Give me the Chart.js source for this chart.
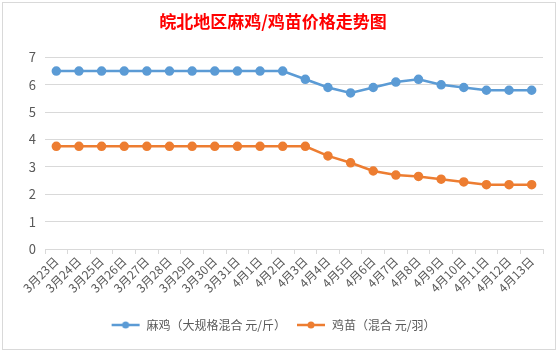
<!DOCTYPE html>
<html>
<head>
<meta charset="utf-8">
<script src="https://cdn.jsdelivr.net/npm/chart.js"></script>
<style>
  html, body { margin: 0; padding: 0; background: #fff; }
  .box {
    position: absolute; left: 2px; top: 2px;
    width: 552px; height: 346px;
    border: 1px solid #d9d9d9; background: #fff;
  }
</style>
</head>
<body>
<div class="box"><canvas id="priceChart" width="552" height="346"></canvas></div>
<script>
'use strict';

// 日付（カテゴリ）
var days = ['3月23日', '3月24日', '3月25日', '3月26日', '3月27日', '3月28日', '3月29日', '3月30日', '3月31日',
  '4月1日', '4月2日', '4月3日', '4月4日', '4月5日', '4月6日', '4月7日', '4月8日', '4月9日', '4月10日',
  '4月11日', '4月12日', '4月13日'];

// 麻鸡（大规格混合 元/斤）
var majiPrice = [6.5, 6.5, 6.5, 6.5, 6.5, 6.5, 6.5, 6.5, 6.5, 6.5, 6.5,
  6.2, 5.9, 5.7, 5.9, 6.1, 6.2, 6.0, 5.9, 5.8, 5.8, 5.8];

// 鸡苗（混合 元/羽）
var jimiaoPrice = [3.75, 3.75, 3.75, 3.75, 3.75, 3.75, 3.75, 3.75, 3.75, 3.75, 3.75, 3.75,
  3.4, 3.15, 2.85, 2.7, 2.65, 2.55, 2.45, 2.35, 2.35, 2.35];

// y軸の目盛
var yTicks = [0, 1, 2, 3, 4, 5, 6, 7];

var blue = '#5b9bd5',
    orange = '#ed7d31',
    gray = '#595959';

//凡例のアイコン（線＋点）
function legendIcon(color) {
  var c = document.createElement('canvas');
  c.width = 30;
  c.height = 10;
  var g = c.getContext('2d');
  g.strokeStyle = color;
  g.lineWidth = 2.5;
  g.beginPath();
  g.moveTo(1, 5);
  g.lineTo(29, 5);
  g.stroke();
  g.fillStyle = color;
  g.beginPath();
  g.arc(15, 5, 3.5, 0, Math.PI * 2);
  g.fill();
  return c;
}

var ctx = document.getElementById('priceChart');
var myChart = new Chart(ctx, {
  type: 'line',
  data: {
    labels: days,
    datasets: [{
      label: '麻鸡（大规格混合 元/斤）',
      data: majiPrice,
      borderColor: blue,
      backgroundColor: blue,
      pointBackgroundColor: blue,
      pointBorderColor: blue,
      borderWidth: 2.5,
      pointRadius: 3.5,
      pointStyle: 'circle',
      tension: 0
    }, {
      label: '鸡苗（混合 元/羽）',
      data: jimiaoPrice,
      borderColor: orange,
      backgroundColor: orange,
      pointBackgroundColor: orange,
      pointBorderColor: orange,
      borderWidth: 2.5,
      pointRadius: 3.5,
      pointStyle: 'circle',
      tension: 0
    }]
  },
  options: {
    responsive: false,
    animation: false,
    layout: {
      padding: { left: 0, right: 12, top: 0, bottom: 8 }
    },
    plugins: {
      title: {
        display: true,
        text: '皖北地区麻鸡/鸡苗价格走势图',
        color: '#ff0000',
        font: { family: '"Noto Sans CJK SC"', size: 17, weight: 'bold' },
        padding: { top: 8, bottom: 26 }
      },
      legend: {
        position: 'bottom',
        labels: {
          color: gray,
          font: { family: '"Noto Sans CJK SC"', size: 12 },
          usePointStyle: true,
          pointStyleWidth: 30,
          boxHeight: 10,
          padding: 10,
          generateLabels: function(chart) {
            return chart.data.datasets.map(function(ds, i) {
              return {
                text: ds.label,
                fontColor: gray,
                pointStyle: legendIcon(ds.borderColor),
                fillStyle: ds.borderColor,
                strokeStyle: ds.borderColor,
                lineWidth: 0,
                datasetIndex: i
              };
            });
          }
        }
      },
      tooltip: { enabled: false }
    },
    scales: {
      x: {
        offset: true,
        afterFit: function(scale) {
          scale.height = 60;
        },
        grid: {
          offset: true,
          drawOnChartArea: false,
          drawTicks: true,
          tickLength: 5,
          color: '#d9d9d9'
        },
        border: { color: '#d9d9d9' },
        ticks: {
          autoSkip: false,
          maxRotation: 45,
          minRotation: 45,
          padding: 0,
          color: gray,
          font: { family: '"Noto Sans CJK SC"', size: 12 }
        }
      },
      y: {
        min: 0,
        max: 7,
        afterBuildTicks: function(scale) {
          scale.ticks = yTicks.map(function(v) { return { value: v }; });
        },
        afterFit: function(scale) {
          scale.width = 42;
        },
        grid: {
          color: '#d9d9d9',
          drawTicks: false
        },
        border: { display: false },
        ticks: {
          padding: 9,
          color: gray,
          font: { family: '"Noto Sans CJK SC"', size: 13 }
        }
      }
    }
  }
});
</script>
</body>
</html>
